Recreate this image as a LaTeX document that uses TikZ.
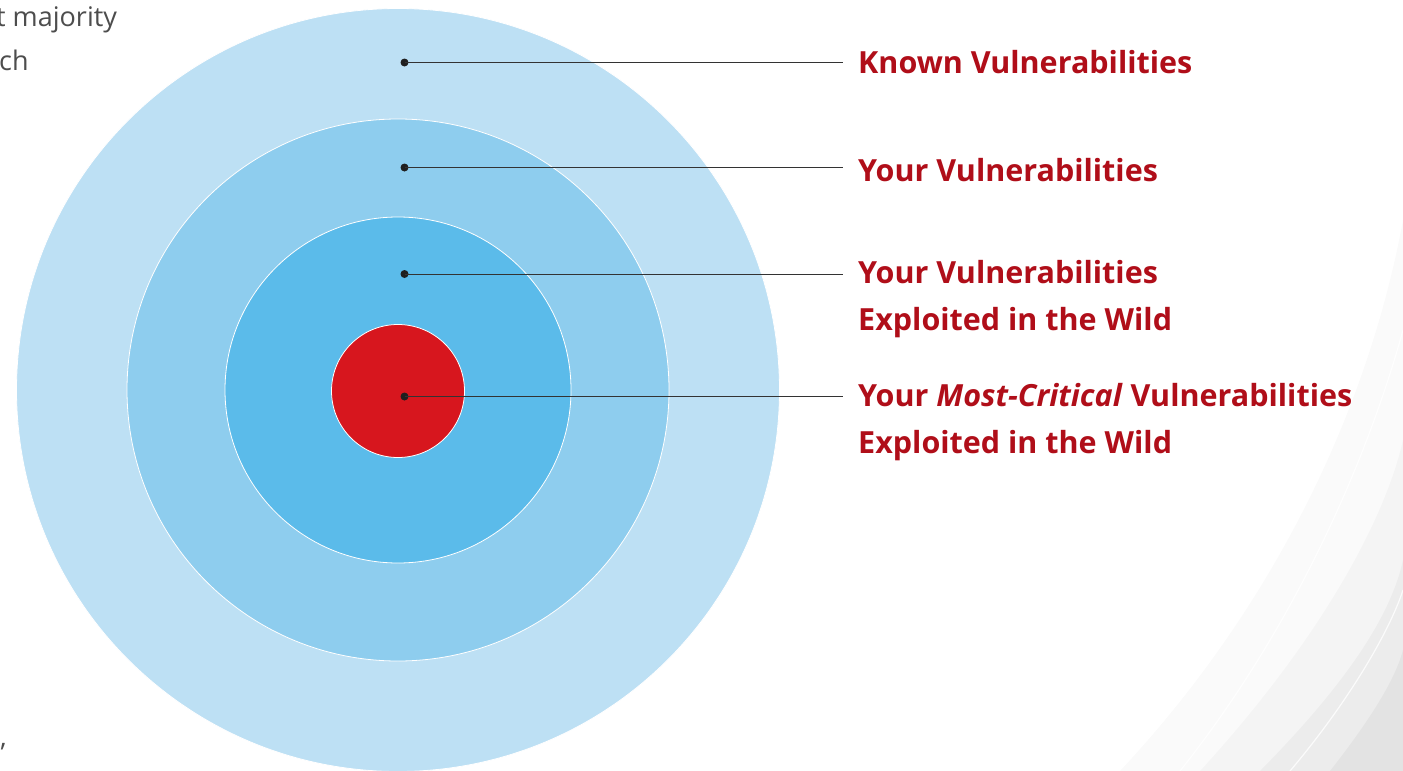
\documentclass[tikz,border=0pt]{standalone}
\usepackage{fontspec}
\setmainfont{Open Sans}
\definecolor{ring1}{HTML}{BDE0F4}
\definecolor{ring2}{HTML}{8ECDEE}
\definecolor{ring3}{HTML}{5BBBEA}
\definecolor{core}{HTML}{D7161E}
\definecolor{lbl}{HTML}{B00E19}
\definecolor{bodytxt}{HTML}{4D4D4D}
\begin{document}
\begin{tikzpicture}[x=1pt,y=-1pt,
  ring/.style={draw=white,line width=0.8pt},
  dotmark/.style={circle,fill=black!88,inner sep=0pt,minimum size=8pt},
  leader/.style={draw=black!80,line width=1pt},
  lab/.style={anchor=west,text=lbl,font=\fontsize{30.5}{47}\selectfont\bfseries,align=left,inner sep=0pt},
  body/.style={anchor=base west,text=bodytxt,font=\fontsize{27}{30}\selectfont,inner sep=0pt}]
\useasboundingbox (0,0) rectangle (1403,771);
\fill[white] (0,0) rectangle (1403,771);
% decorative swooshes
\begin{scope}
\clip (0,0) rectangle (1403,771);
\fill[black,opacity=0.02] (1120,771) .. controls (1280,600) and (1370,400) .. (1403,220) -- (1403,771) -- cycle;
\fill[black,opacity=0.025] (1200,771) .. controls (1320,640) and (1385,520) .. (1403,440) -- (1403,771) -- cycle;
\fill[black,opacity=0.03] (1260,771) .. controls (1340,690) and (1390,620) .. (1403,560) -- (1403,771) -- cycle;
\fill[black,opacity=0.035] (1330,771) .. controls (1370,720) and (1395,680) .. (1403,650) -- (1403,771) -- cycle;
\draw[white,line width=1.2pt,opacity=0.8] (1180,771) .. controls (1300,620) and (1370,450) .. (1403,330);
\draw[white,line width=1.2pt,opacity=0.8] (1290,771) .. controls (1350,700) and (1390,630) .. (1403,590);
\end{scope}
% body text fragments
\node[body] (t1) at (-4,26) {t majority};
\node[body] (t2) at (-1,70) {ch};
\node[body] (t3) at (0,746) {,};
% rings
\path[ring,fill=ring1] (398,390) circle[radius=381.5pt];
\path[ring,fill=ring2] (398,390) circle[radius=271pt];
\path[ring,fill=ring3] (398,390) circle[radius=173pt];
\path[ring,fill=core] (398,391) circle[radius=66.5pt];
% dots
\node[dotmark] (d1) at (404.5,62.5) {};
\node[dotmark] (d2) at (404.5,167.5) {};
\node[dotmark] (d3) at (404.5,274) {};
\node[dotmark] (d4) at (404.5,396.5) {};
\coordinate (e1) at (843,62.5);
\coordinate (e2) at (843,167.5);
\coordinate (e3) at (843,274);
\coordinate (e4) at (843,396.5);
\draw[leader] (d1.center) -- (e1);
\draw[leader] (d2.center) -- (e2);
\draw[leader] (d3.center) -- (e3);
\draw[leader] (d4.center) -- (e4);
% labels
\node[lab] (l1) at (858,62.5) {Known Vulnerabilities};
\node[lab] (l2) at (858,170) {Your Vulnerabilities};
\node[lab,anchor=north west] (l3) at (858,260) {Your Vulnerabilities\\Exploited in the Wild};
\node[lab,anchor=north west] (l4) at (858,383) {Your \textit{Most-Critical} Vulnerabilities\\Exploited in the Wild};
\end{tikzpicture}
\end{document}
